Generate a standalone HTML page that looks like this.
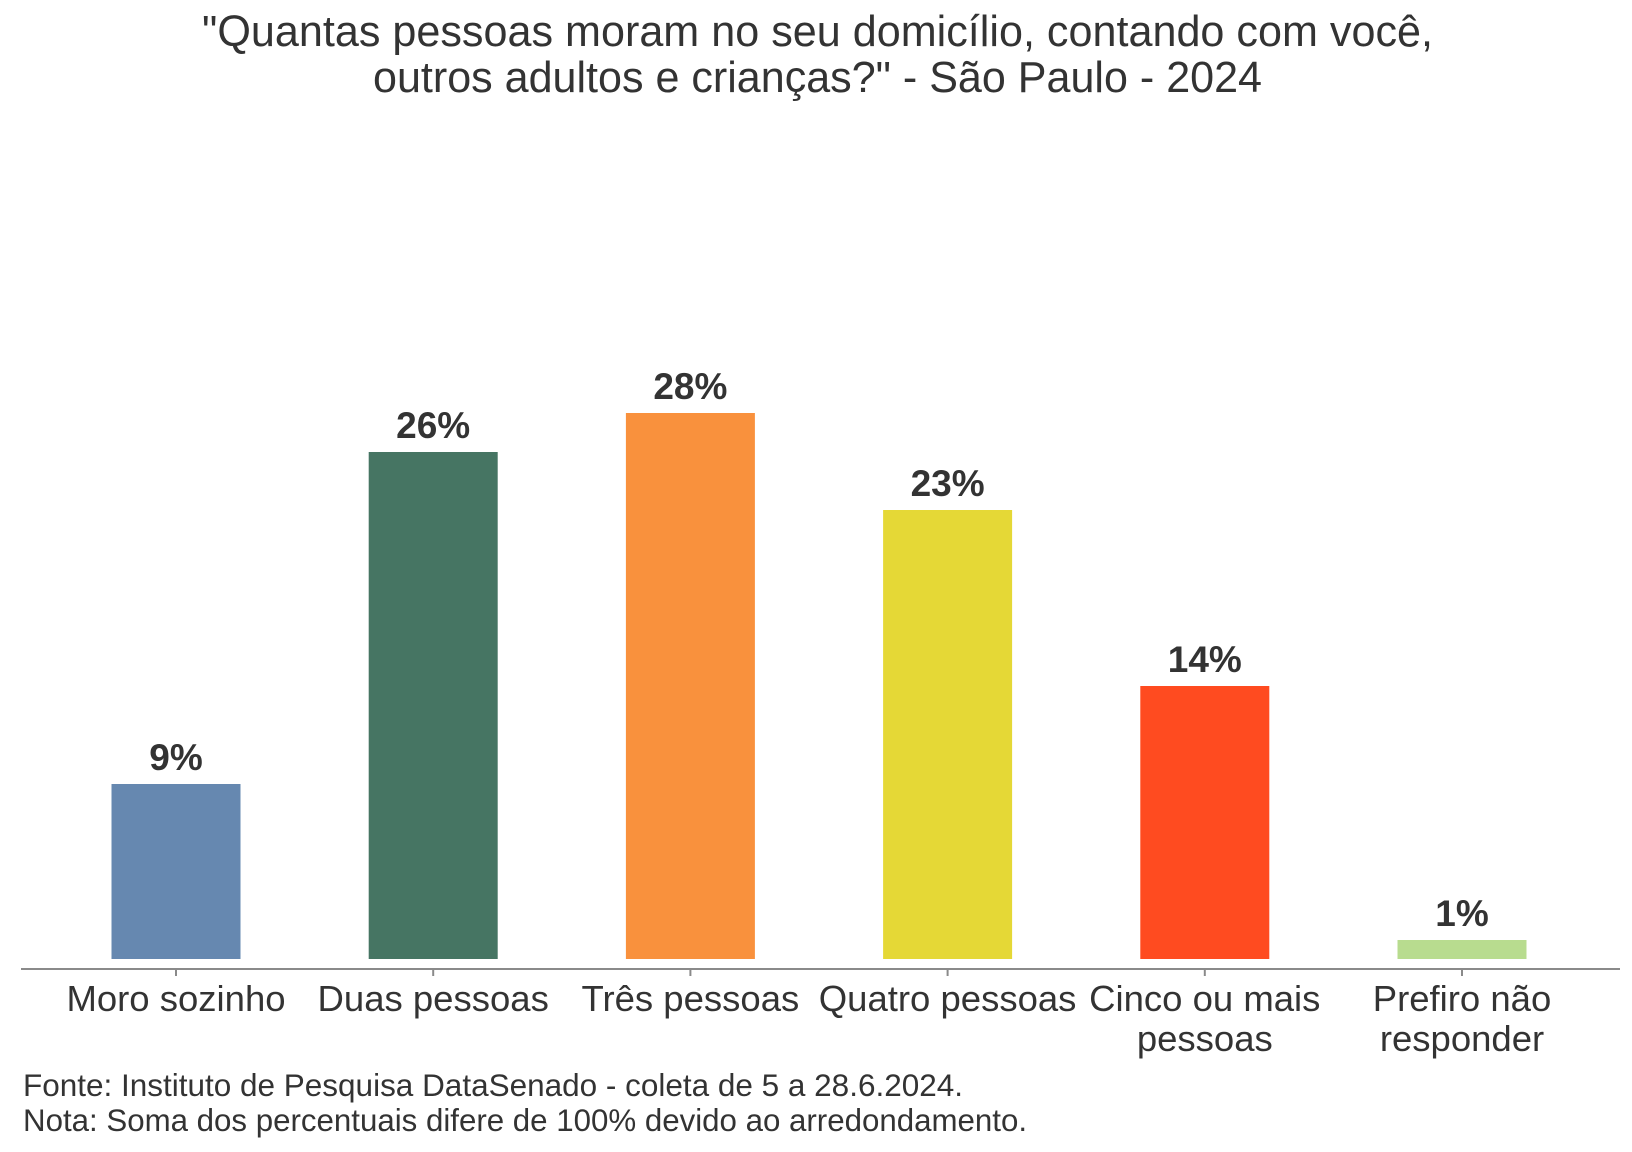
<!DOCTYPE html>
<html>
<head>
<meta charset="utf-8">
<style>
  html, body { margin: 0; padding: 0; background: #ffffff; }
  svg { display: block; }
  text { font-family: "Liberation Sans", Arial, sans-serif; fill: #333333; }
</style>
</head>
<body>
<svg width="1632" height="1152" viewBox="0 0 1632 1152" xmlns="http://www.w3.org/2000/svg">
  <rect x="0" y="0" width="1632" height="1152" fill="#ffffff"/>

  <!-- Title -->
  <text x="202" y="46" font-size="43.3" textLength="1231" lengthAdjust="spacingAndGlyphs">"Quantas pessoas moram no seu domicílio, contando com você,</text>
  <text x="373" y="92" font-size="43.3" textLength="889" lengthAdjust="spacingAndGlyphs">outros adultos e crianças?" - São Paulo - 2024</text>

  <!-- Bars -->
  <rect x="111.5" y="784" width="129" height="175" fill="#6688B0"/>
  <rect x="368.7" y="452" width="129" height="507" fill="#467563"/>
  <rect x="625.9" y="413" width="129" height="546" fill="#F9913D"/>
  <rect x="883.1" y="510" width="129" height="449" fill="#E5D836"/>
  <rect x="1140.3" y="686" width="129" height="273" fill="#FF4B20"/>
  <rect x="1397.5" y="940" width="129" height="19" fill="#B8DC8F"/>

  <!-- Value labels -->
  <g font-size="37" font-weight="bold" text-anchor="middle">
    <text x="176" y="770">9%</text>
    <text x="433.2" y="438">26%</text>
    <text x="690.4" y="399">28%</text>
    <text x="947.6" y="496">23%</text>
    <text x="1204.8" y="672">14%</text>
    <text x="1462" y="926">1%</text>
  </g>

  <!-- Axis -->
  <line x1="21" y1="969" x2="1620" y2="969" stroke="#8a8a8a" stroke-width="2"/>
  <g stroke="#8a8a8a" stroke-width="2">
    <line x1="176" y1="969" x2="176" y2="976"/>
    <line x1="433.2" y1="969" x2="433.2" y2="976"/>
    <line x1="690.4" y1="969" x2="690.4" y2="976"/>
    <line x1="947.6" y1="969" x2="947.6" y2="976"/>
    <line x1="1204.8" y1="969" x2="1204.8" y2="976"/>
    <line x1="1462" y1="969" x2="1462" y2="976"/>
  </g>

  <!-- X labels -->
  <g font-size="36.5" text-anchor="middle">
    <text x="176" y="1011">Moro sozinho</text>
    <text x="433.2" y="1011">Duas pessoas</text>
    <text x="690.4" y="1011">Três pessoas</text>
    <text x="947.6" y="1011">Quatro pessoas</text>
    <text x="1204.8" y="1011">Cinco ou mais</text>
    <text x="1204.8" y="1051">pessoas</text>
    <text x="1462" y="1011">Prefiro não</text>
    <text x="1462" y="1051">responder</text>
  </g>

  <!-- Footnotes -->
  <g font-size="31.4">
    <text x="23" y="1096" textLength="940" lengthAdjust="spacingAndGlyphs">Fonte: Instituto de Pesquisa DataSenado - coleta de 5 a 28.6.2024.</text>
    <text x="23" y="1131" textLength="1004" lengthAdjust="spacingAndGlyphs">Nota: Soma dos percentuais difere de 100% devido ao arredondamento.</text>
  </g>
</svg>
</body>
</html>
